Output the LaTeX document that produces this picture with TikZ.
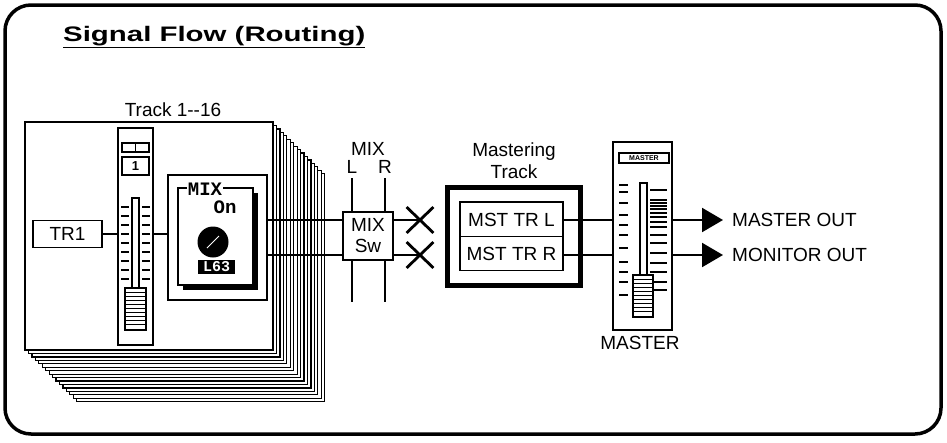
\documentclass[tikz,border=0pt]{standalone}
\usepackage{graphicx}
\usepackage{fontspec}
\setmainfont{Liberation Sans}
\setmonofont{Liberation Mono}
\usetikzlibrary{shapes.misc, shadows, arrows.meta}

\begin{document}
\begin{tikzpicture}[
    x=1pt, y=-1pt,
    font=\fontsize{19}{22}\selectfont,
    >={Triangle[length=21pt,width=24pt]},
    box/.style={rectangle, draw=black, line width=1.7pt, fill=white, inner sep=0pt},
    stack/.style={draw=black, line width=1.2pt, fill=white},
    wire/.style={line width=2.2pt},
    sig/.style={->, line width=2.2pt},
    bus/.style={line width=2.2pt},
    tick/.style={line width=1.8pt},
    lcd/.style={font=\ttfamily\bfseries\fontsize{19}{19}\selectfont, inner sep=1pt},
    cross/.style={cross out, draw=black, line width=2.8pt, minimum width=24, minimum height=23, inner sep=0pt},
    blackshadow/.style={drop shadow={shadow xshift=#1, shadow yshift=-#1, fill=black, opacity=1}}
  ]
  \useasboundingbox (0,0) rectangle (947,442);

  % Frame and title
  \draw[line width=3.5pt, rounded corners=26pt] (5,5) rectangle (941,434);
  \node[anchor=base west, inner sep=0pt, font=\bfseries\fontsize{21}{21}\selectfont] (title) at (63,41)
    {\scalebox{1.4}[1]{\underline{Signal Flow (Routing)}}};

  % Track 1--16 (stack)
  \foreach \i in {15,14,...,1}
    \draw[stack, shift={(3.45*\i,3.45*\i)}] (25,122) rectangle (273,350);
  \node[box, line width=1.5pt, minimum width=248, minimum height=228] (track) at (149,236) {};
  \node (tracklbl) at (173,110) {Track 1{-}{-}16};

  % Track fader
  \node[box, minimum width=35, minimum height=217] (fader) at (135.5,236.5) {};
  \draw[line width=1.4pt] (122,143) rectangle (149,152) (135.5,143) -- (135.5,152);
  \node[box, line width=1.4pt, minimum width=27, minimum height=18, font=\bfseries\fontsize{13}{13}\selectfont] (chnum) at (135.5,166) {1};
  \foreach \y in {207,216,...,280} {
    \draw[tick] (121,\y) -- (129,\y);
    \draw[tick] (142,\y) -- (150,\y);
  }
  \node[box, line width=1.3pt, minimum width=7, minimum height=90] (slot) at (135.5,243) {};
  \node[box, line width=1.3pt, minimum width=21, minimum height=42] (knob) at (135.5,309) {};
  \foreach \y in {292,296,...,327}
    \draw[line width=0.9pt] (126,\y) -- (145,\y);

  % TR1
  \node[box, minimum width=69, minimum height=27] (tr1) at (67.5,234) {TR1};

  % MIX send
  \node[box, minimum width=99, minimum height=125] (mixbox) at (217.5,237.5) {};
  \node[box, minimum width=75, minimum height=97, blackshadow=5pt] (mixon) at (215.5,236.5) {};
  \node[lcd, fill=white] (mixtag) at (205,189) {MIX};
  \node[lcd] (ontag) at (225,207) {On};
  \node[circle, fill=black, minimum size=31, inner sep=0pt] (pan) at (213,242) {};
  \draw[white, line width=0.9pt] ([shift={(-6,6)}]pan.center) -- ([shift={(6,-6)}]pan.center);
  \node[rectangle, fill=black, text=white, minimum width=37, minimum height=14, inner sep=0pt,
    font=\ttfamily\bfseries\fontsize{15}{15}\selectfont] (panval) at (216.5,266.5) {L63};

  \draw[wire] (tr1.east) -- (fader.west |- tr1.east);
  \draw[wire] (fader.east |- tr1.east) -- (mixbox.west |- tr1.east);

  % MIX bus / switch
  \coordinate (lrow) at (0,220);
  \coordinate (rrow) at (0,255);
  \coordinate (busltop) at (352,178);
  \coordinate (buslbot) at (352,302);
  \coordinate (busrtop) at (385,178);
  \coordinate (busrbot) at (385,302);
  \draw[bus] (busltop) -- (buslbot);
  \draw[bus] (busrtop) -- (busrbot);
  \node (mixbus) at (368,149) {MIX};
  \node (busl) at (352,167) {L};
  \node (busr) at (385,167) {R};
  \node[box, minimum width=50, minimum height=48, align=center, font=\fontsize{19}{21}\selectfont] (mixsw) at (368,236) {MIX\\Sw};

  \draw[wire] (mixbox.east |- lrow) -- (mixsw.west |- lrow);
  \draw[wire] (mixbox.east |- rrow) -- (mixsw.west |- rrow);

  % Mute
  \node[cross] (xl) at (420,220) {};
  \node[cross] (xr) at (420,255) {};
  \draw[wire] (mixsw.east |- lrow) -- (xl.center);
  \draw[wire] (mixsw.east |- rrow) -- (xr.center);

  % Mastering track
  \node[align=center] (mtlbl) at (514,161) {Mastering\\Track};
  \node[rectangle, draw=black, line width=5pt, fill=white, minimum width=133, minimum height=98, blackshadow=3pt] (mtrack) at (513.5,236) {};
  \node[box, minimum width=103, minimum height=35] (mstl) at (511.5,219.5) {MST TR L};
  \node[box, minimum width=103, minimum height=34] (mstr) at (511.5,253.5) {MST TR R};

  % Master fader
  \node[box, minimum width=59, minimum height=188] (mfader) at (642.5,236) {};
  \node[rectangle, draw=black, line width=1.8pt, minimum width=50, minimum height=10, inner sep=0pt,
    font=\bfseries\fontsize{7}{7}\selectfont] (mtag) at (644,158) {MASTER};
  \foreach \y in {190,200,203,206,209,213,217,222,227,235,243,253,263,272,282,290}
    \draw[tick] (650,\y) -- (667,\y);
  \foreach \y in {185,192,203,215,225,235,248,262,272,282,295}
    \draw[tick] (619,\y) -- (628,\y);
  \node[box, line width=1.3pt, minimum width=7, minimum height=92] (mslot) at (643.5,229) {};
  \node[box, line width=1.3pt, minimum width=20, minimum height=42] (mknob) at (643,296) {};
  \foreach \y in {279,283,...,314}
    \draw[line width=0.9pt] (634,\y) -- (652,\y);
  \node (mlbl) at (640,343) {MASTER};

  \draw[wire] (mstl.east |- lrow) -- (mfader.west |- lrow);
  \draw[wire] (mstr.east |- rrow) -- (mfader.west |- rrow);

  % Outputs
  \node[anchor=west, inner sep=0pt] (mout) at (732,220) {MASTER OUT};
  \node[anchor=west, inner sep=0pt] (monout) at (732,255) {MONITOR OUT};
  \draw[sig] (mfader.east |- lrow) -- ([xshift=-9pt]mout.west);
  \draw[sig] (mfader.east |- rrow) -- ([xshift=-9pt]monout.west);

\end{tikzpicture}
\end{document}
